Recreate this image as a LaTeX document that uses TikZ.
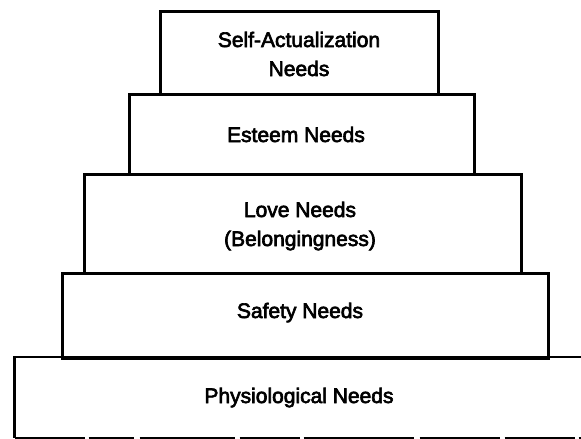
\documentclass[tikz,border=0pt]{standalone}
\usepackage{fontspec}
\setmainfont{Liberation Sans}
\newfontfamily\tierfont{Liberation Sans}[FakeBold=3]
\begin{document}
\begin{tikzpicture}[x=1pt,y=-1pt,
  tier/.style={draw=black, line width=2.8pt, line join=miter, rectangle, inner sep=0pt, anchor=north west},
  label/.style={font=\tierfont\fontsize{21}{29}\selectfont, anchor=base, inner sep=0pt, text=black}]
  \useasboundingbox (0,0) rectangle (581,439);
  \clip (0,0) rectangle (581,439);

  % stacked tiers of the hierarchy, top to bottom
  \node[tier, minimum width=278pt, minimum height=83pt]  (self)   at (159,10)  {};
  \node[tier, minimum width=345pt, minimum height=80pt]  (esteem) at (128,93)  {};
  \node[tier, minimum width=437pt, minimum height=99pt]  (love)   at (83,173)  {};
  \node[tier, minimum width=486pt, minimum height=85pt]  (safety) at (61,272)  {};

  % widest tier runs off the right edge; its base line is broken
  \coordinate (physTR) at (600,357);
  \coordinate (physTL) at (14.5,357);
  \coordinate (physBL) at (14.5,438);
  \coordinate (physBR) at (600,438);
  \draw[line width=2.8pt] (physTR) -- (physTL) -- (physBL);
  \draw[line width=2.4pt, dash pattern=on 70pt off 4pt on 45pt off 6pt on 95pt off 5pt on 60pt off 4pt on 110pt off 6pt on 80pt off 5pt]
    (physBL) -- (physBR);

  % tier captions
  \node[label] (tSelfA) at (299,47)  {Self-Actualization};
  \node[label] (tSelfB) at (299,76)  {Needs};
  \node[label] (tEst)   at (296,142) {Esteem Needs};
  \node[label] (tLoveA) at (300,217) {Love Needs};
  \node[label] (tLoveB) at (300,246) {(Belongingness)};
  \node[label] (tSafe)  at (300,318) {Safety Needs};
  \node[label] (tPhys)  at (299,403) {Physiological Needs};
\end{tikzpicture}
\end{document}
